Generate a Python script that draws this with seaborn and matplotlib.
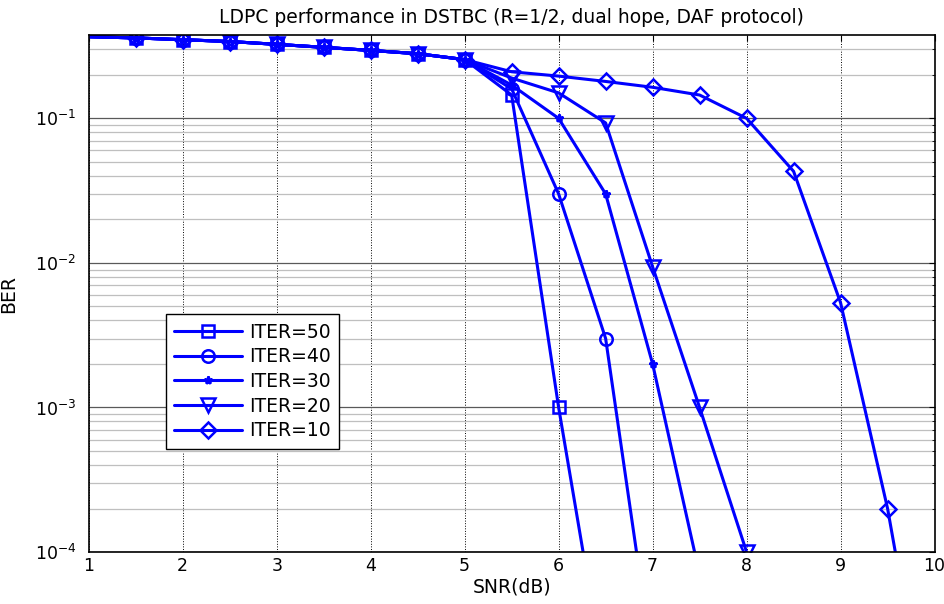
import numpy as np
import pandas as pd
import matplotlib
matplotlib.use("Agg")
import matplotlib.pyplot as plt
from matplotlib.ticker import LogLocator, NullFormatter
import seaborn as sns

# SNR points (dB)
snr = [0.5, 1.0, 1.5, 2.0, 2.5, 3.0, 3.5, 4.0, 4.5, 5.0,
       5.5, 6.0, 6.5, 7.0, 7.5, 8.0, 8.5, 9.0, 9.5, 10.0]

# shared part of the curves (0.5 .. 5 dB)
common = [0.375, 0.367, 0.36, 0.35, 0.34, 0.325, 0.31, 0.295, 0.28, 0.255]

ber_iter50 = common + [0.145, 1e-3, 1.2e-5]
ber_iter40 = common + [0.16, 0.03, 3e-3, 1.7e-5]
ber_iter30 = common + [0.17, 0.1, 0.03, 2e-3, 7e-5]
ber_iter20 = common + [0.19, 0.15, 0.093, 0.0094, 1e-3, 1e-4]
ber_iter10 = common + [0.21, 0.196, 0.18, 0.164, 0.145, 0.1, 0.043, 0.0053, 2e-4, 3e-6]

labels = ["ITER=50", "ITER=40", "ITER=30", "ITER=20", "ITER=10"]
series = [ber_iter50, ber_iter40, ber_iter30, ber_iter20, ber_iter10]
markers = ["s", "o", "*", "v", "D"]
msizes = [9, 9, 6, 10, 8]

sns.set_style("white")
plt.rcParams["font.family"] = ["DejaVu Sans"]
plt.rcParams["mathtext.fontset"] = "dejavusans"
for key in ["text.color", "axes.labelcolor", "xtick.color", "ytick.color"]:
    plt.rcParams[key] = "k"

fig = plt.figure(figsize=(9.44, 6.04), dpi=100)
ax = fig.add_axes([0.094, 0.086, 0.896, 0.856])

for lab, ber, mk, ms in zip(labels, series, markers, msizes):
    df = pd.DataFrame({"SNR": snr[:len(ber)], "BER": ber})
    # no marker drawn on the first two points (left of / on the axis edge)
    sns.lineplot(data=df, x="SNR", y="BER", ax=ax, color="#0000ff", lw=2.2,
                 marker=mk, ms=ms, mfc="none", mec="#0000ff", mew=1.8,
                 markevery=list(range(2, len(ber))), label=lab)

ax.set_yscale("log")
ax.set_xlim(1, 10)
ax.set_ylim(1e-4, 0.377)
ax.set_xticks(range(1, 11))
ax.yaxis.set_major_locator(LogLocator(base=10, numticks=10))
ax.yaxis.set_minor_locator(LogLocator(base=10, subs=np.arange(2, 10), numticks=20))
ax.yaxis.set_minor_formatter(NullFormatter())

ax.grid(True, axis="x", which="major", linestyle=":", color="k", lw=0.7)
ax.grid(True, axis="y", which="major", linestyle="-", color="0.35", lw=0.9)
ax.grid(True, axis="y", which="minor", linestyle="-", color="0.75", lw=0.9)
ax.set_axisbelow(True)

ax.tick_params(direction="in", top=True, right=True, labelsize=12.5, length=4, width=0.8)
ax.tick_params(axis="y", pad=9)
ax.tick_params(which="minor", direction="in", right=True, length=2.5)
for sp in ax.spines.values():
    sp.set_color("k")
    sp.set_linewidth(1.2)

ax.set_title("LDPC performance in DSTBC (R=1/2, dual hope, DAF protocol)", fontsize=13.5, pad=9)
ax.set_xlabel("SNR(dB)", fontsize=13.5, labelpad=2)
ax.set_ylabel("BER", fontsize=13.5, labelpad=12)

leg = ax.legend(loc="upper left", bbox_to_anchor=(0.091, 0.460), borderaxespad=0,
                fontsize=13.5, handlelength=3.6, labelspacing=0.3, fancybox=False,
                framealpha=1, borderpad=0.45, handletextpad=0.4)
leg.get_frame().set_edgecolor("k")
leg.get_frame().set_linewidth(1.0)

fig.savefig("out.png", dpi=100)
